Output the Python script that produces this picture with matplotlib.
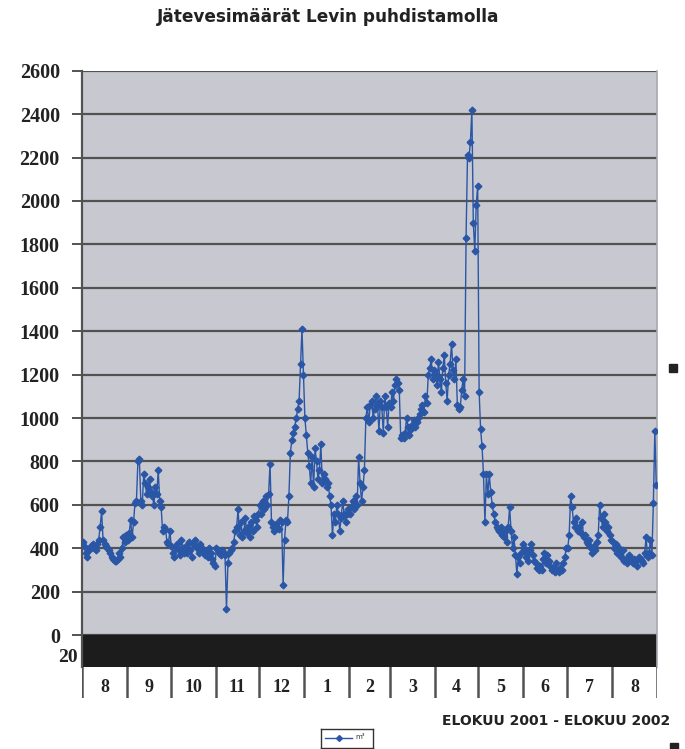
import numpy as np
import matplotlib
matplotlib.use("Agg")
import matplotlib.pyplot as plt
from matplotlib.patches import Rectangle
from matplotlib.lines import Line2D

# Daily wastewater volumes (m3), August 2001 - August 2002
aug01 = [430, 410, 380, 360, 390, 400, 410, 420, 400, 390, 420, 440, 500, 570, 440, 420,
         410, 400, 390, 380, 360, 350, 340, 340, 350, 380, 360, 400, 450, 430, 460]
sep01 = [440, 470, 530, 450, 520, 610, 620, 800, 810, 620, 600, 740, 700, 650, 680, 720,
         660, 640, 600, 680, 650, 760, 620, 590, 480, 500, 490, 430, 420, 480]
oct01 = [410, 380, 360, 400, 420, 390, 370, 440, 400, 380, 410, 380, 430, 390, 360, 420,
         440, 410, 400, 380, 420, 400, 390, 370, 380, 360, 400, 380, 350, 330, 320]
nov01 = [400, 390, 380, 370, 390, 380, 370, 120, 330, 380, 390, 400, 430, 480, 500, 580,
         460, 520, 450, 480, 540, 470, 500, 450, 520, 480, 550, 530, 500, 560]
dec01 = [600, 560, 620, 580, 640, 600, 650, 790, 520, 500, 480, 510, 500, 490, 530, 520,
         230, 440, 530, 520, 640, 840, 900, 930, 960, 1000, 1040, 1080, 1250, 1410, 1200]
jan02 = [1000, 920, 840, 780, 700, 820, 680, 860, 800, 720, 760, 880, 700, 740, 720, 680,
         700, 640, 600, 460, 560, 520, 600, 560, 480, 540, 620, 560, 520, 560, 580]
feb02 = [560, 590, 620, 580, 640, 600, 820, 700, 620, 680, 760, 1000, 1050, 980, 1060,
         1080, 1000, 1040, 1100, 1060, 940, 1080, 1050, 930, 1100, 1050, 960, 1070]
mar02 = [1050, 1120, 1080, 1150, 1180, 1160, 1130, 910, 920, 910, 930, 1000, 960, 920,
         950, 970, 990, 960, 980, 1000, 1020, 1040, 1060, 1030, 1100, 1070, 1200, 1230,
         1270, 1180, 1220]
apr02 = [1200, 1150, 1260, 1180, 1120, 1230, 1290, 1160, 1080, 1200, 1250, 1340, 1220,
         1180, 1270, 1060, 1040, 1050, 1130, 1180, 1100, 1830, 2210, 2200, 2270, 2420,
         1900, 1770, 1980, 2070]
may02 = [1120, 950, 870, 740, 520, 740, 650, 740, 660, 600, 560, 520, 500, 490, 480, 500,
         460, 450, 480, 430, 500, 590, 480, 400, 450, 370, 280, 360, 330, 380, 420]
jun02 = [400, 360, 380, 340, 390, 420, 370, 340, 330, 310, 300, 320, 300, 350, 380, 330,
         370, 340, 320, 300, 310, 290, 330, 300, 290, 310, 300, 330, 360, 400]
jul02 = [400, 460, 640, 590, 520, 500, 540, 480, 500, 470, 520, 450, 460, 430, 420, 440,
         400, 380, 410, 390, 430, 460, 600, 540, 500, 560, 520, 480, 500, 460, 440]
aug02 = [430, 400, 420, 380, 400, 370, 360, 390, 340, 350, 330, 370, 360, 340, 330, 350,
         340, 320, 360, 350, 340, 330, 380, 450, 360, 380, 440, 370, 610, 940, 690]

month_labels = ["8", "9", "10", "11", "12", "1", "2", "3", "4", "5", "6", "7", "8"]
month_series = [aug01, sep01, oct01, nov01, dec01, jan02, feb02, mar02, apr02,
                may02, jun02, jul02, aug02]
y_ticks = list(range(0, 2601, 200))

title = "Jätevesimäärät Levin puhdistamolla"
period = "ELOKUU 2001 - ELOKUU 2002"
series_name = "m³"

values = np.concatenate([np.asarray(m, dtype=float) for m in month_series])
lengths = [len(m) for m in month_series]
bounds = np.concatenate([[0], np.cumsum(lengths)])
days = np.arange(len(values)) + 0.5

W, H = 685, 749
fig = plt.figure(figsize=(W / 100, H / 100), dpi=100)
fig.patch.set_facecolor("white")

def fa(x0, y0, x1, y1):
    return [x0 / W, 1 - y1 / H, (x1 - x0) / W, (y1 - y0) / H]

serif_bold = dict(family="Liberation Serif", weight="bold")
line_color = "#2a56a6"
grid_color = "#525252"

# main plotting area
ax = fig.add_axes(fa(82, 70.7, 657, 667))
ax.set_facecolor("#c8c8d0")
ymin = -147
ax.set_ylim(ymin, 2600)
ax.set_xlim(0, bounds[-1])
ax.axhspan(ymin, 0, color="#1c1c1c", zorder=1)
ax.set_yticks(y_ticks)
ax.set_yticklabels([str(t) for t in y_ticks], fontsize=14.5, **serif_bold, color="#222222")
ax.set_xticks([])
ax.grid(axis="y", color=grid_color, lw=1.6, zorder=0.5)
ax.set_axisbelow(True)
ax.tick_params(axis="y", direction="out", length=7, width=1.4, color=grid_color, pad=9)
for s in ["top", "bottom"]:
    ax.spines[s].set_visible(False)
ax.spines["left"].set_color(grid_color)
ax.spines["left"].set_linewidth(1.6)
ax.spines["right"].set_color("#a8a8b0")
ax.spines["right"].set_linewidth(1.2)

ax.plot(days, values, color=line_color, lw=1.0, marker="D", markersize=3.4,
        markerfacecolor=line_color, markeredgecolor=line_color, zorder=3)

# partially visible label below zero
fig.text(78 / W, 1 - 657 / H, "20", ha="right", va="center", fontsize=14,
         color="#222222", **serif_bold)

# month category strip
cax = fig.add_axes(fa(82, 667, 657, 698))
cax.set_xlim(0, bounds[-1])
cax.set_ylim(0, 1)
cax.axis("off")
for b in bounds:
    cax.axvline(b, color=grid_color, lw=1.8)
for i, lab in enumerate(month_labels):
    cax.text((bounds[i] + bounds[i + 1]) / 2, 0.33, lab, ha="center", va="center",
             fontsize=13, color="#222222", **serif_bold)

fig.text(328 / W, 1 - 17 / H, title, ha="center", va="center", fontsize=12.2,
         weight="bold", family="DejaVu Sans", color="#222222")
fig.text(670 / W, 1 - 721 / H, period, ha="right", va="center", fontsize=10,
         weight="bold", family="DejaVu Sans", color="#222222")

# legend box
lax = fig.add_axes(fa(321, 729, 373, 748))
lax.set_xlim(0, 1)
lax.set_ylim(0, 1)
lax.set_xticks([])
lax.set_yticks([])
for s in lax.spines.values():
    s.set_color("#333333")
    s.set_linewidth(1.0)
lax.add_line(Line2D([0.08, 0.6], [0.55, 0.55], color=line_color, lw=1.0))
lax.add_line(Line2D([0.34], [0.55], color=line_color, marker="D", markersize=3))
lax.text(0.66, 0.58, series_name, fontsize=5, va="center", ha="left", color="#333333")

# small marks at the right edge
fig.patches.append(Rectangle((669 / W, 1 - 372 / H), 8 / W, 8 / H,
                             transform=fig.transFigure, color="#222222"))
fig.patches.append(Rectangle((670 / W, 0), 8 / W, 6 / H,
                             transform=fig.transFigure, color="#222222"))

fig.savefig("out.png", dpi=100)
